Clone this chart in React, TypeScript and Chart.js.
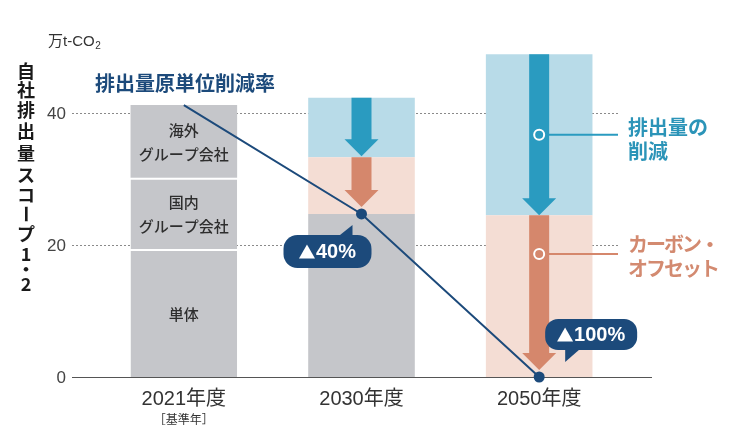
import React, { useEffect, useRef } from "react";
import { Chart, registerables } from "chart.js";

Chart.register(...registerables);

// ---- data ----
const years = ["2021年度", "2030年度", "2050年度"];
const baseYearNote = "［基準年］";
const standalone = [19.4, null, null];
const domesticGroup = [10.8, null, null];
const overseasGroup = [11.0, null, null];
const remaining = [null, 24.7, null];
const carbonOffset = [null, 8.6, 24.5];
const emissionCut = [null, 9.0, 24.4];
const intensityRate = [41.2, 24.7, 0];
const intensityLabels = [null, "40%", "100%"];
const yTicks = [0, 20, 40];
const segmentLabels = [["単体"], ["国内", "グループ会社"], ["海外", "グループ会社"]];
const yTitle = "自社排出量スコープ1・2";
const unitText = "万t-CO";
const lineTitle = "排出量原単位削減率";
const cutLegend = ["排出量の", "削減"];
const offsetLegend = ["カーボン・", "オフセット"];

// ---- style ----
const LATIN = '"Liberation Sans", "Noto Sans CJK JP", sans-serif';
const JP = '"Noto Sans CJK JP", sans-serif';
const GRAY = "#c5c6ca";
const BLUE_BG = "#b8dbe8";
const PINK_BG = "#f4ddd4";
const BLUE = "#2a9bc0";
const ORANGE = "#d5876c";
const NAVY = "#1c4a7b";
const BLUE_TEXT = "#2b94b8";
const ORANGE_TEXT = "#d38a70";

function arrow(ctx: CanvasRenderingContext2D, x: number, top: number, tip: number, color: string) {
  const shaft = 20, head = 34, headH = 17;
  ctx.fillStyle = color;
  ctx.beginPath();
  ctx.moveTo(x - shaft / 2, top);
  ctx.lineTo(x + shaft / 2, top);
  ctx.lineTo(x + shaft / 2, tip - headH);
  ctx.lineTo(x + head / 2, tip - headH);
  ctx.lineTo(x, tip);
  ctx.lineTo(x - head / 2, tip - headH);
  ctx.lineTo(x - shaft / 2, tip - headH);
  ctx.closePath();
  ctx.fill();
}

function roundRect(ctx: CanvasRenderingContext2D, x: number, y: number, w: number, h: number, r: number) {
  ctx.moveTo(x + r, y);
  ctx.lineTo(x + w - r, y);
  ctx.arcTo(x + w, y, x + w, y + r, r);
  ctx.lineTo(x + w, y + h - r);
  ctx.arcTo(x + w, y + h, x + w - r, y + h, r);
  ctx.lineTo(x + r, y + h);
  ctx.arcTo(x, y + h, x, y + h - r, r);
  ctx.lineTo(x, y + r);
  ctx.arcTo(x, y, x + r, y, r);
  ctx.closePath();
}

// "▲" drawn as a filled triangle followed by the percentage text
function badgeText(ctx: CanvasRenderingContext2D, text: string, cx: number, cy: number) {
  ctx.font = `bold 20px ${LATIN}`;
  const tw = ctx.measureText(text).width;
  const triW = 16, gap = 1;
  const total = triW + gap + tw;
  const left = cx - total / 2;
  ctx.fillStyle = "#fff";
  ctx.beginPath();
  ctx.moveTo(left, cy + 7);
  ctx.lineTo(left + triW, cy + 7);
  ctx.lineTo(left + triW / 2, cy - 7);
  ctx.closePath();
  ctx.fill();
  ctx.textAlign = "left";
  ctx.textBaseline = "middle";
  ctx.fillText(text, left + triW + gap, cy + 1);
}

const overlay = {
  id: "overlay",
  beforeDatasetsDraw(chart: any) {
    const { ctx, chartArea } = chart;
    const y = chart.scales.y;
    ctx.save();
    // dashed gridlines
    yTicks.forEach((v) => {
      const py = Math.round(y.getPixelForValue(v)) + 0.5;
      if (v !== 0) {
        ctx.beginPath();
        ctx.setLineDash([2, 2]);
        ctx.strokeStyle = "#8a8a8a";
        ctx.lineWidth = 1;
        ctx.moveTo(chartArea.left - 23, py);
        ctx.lineTo(chartArea.right - 8, py);
        ctx.stroke();
      }
      ctx.setLineDash([]);
      ctx.fillStyle = "#444";
      ctx.font = `17px ${LATIN}`;
      ctx.textAlign = "right";
      ctx.textBaseline = "middle";
      ctx.fillText(String(v), chartArea.left - 29, py + 1);
    });

    // unit
    ctx.fillStyle = "#333";
    ctx.font = `15px ${LATIN}`;
    ctx.textAlign = "left";
    ctx.textBaseline = "middle";
    ctx.fillText(unitText, 48, 42);
    const uw = ctx.measureText(unitText).width;
    ctx.font = `10px ${LATIN}`;
    ctx.fillText("2", 48 + uw + 0.5, 46);

    // vertical axis title
    ctx.fillStyle = "#1a1a1a";
    ctx.font = `bold 18px ${JP}`;
    ctx.textAlign = "center";
    const ys = [71, 90, 110, 131, 153, 175, 195, 214, 234, 254, 269, 284];
    Array.from(yTitle).forEach((ch, i) => {
      if (ch === "ー") {
        ctx.save();
        ctx.translate(26, ys[i]);
        ctx.rotate(Math.PI / 2);
        ctx.fillText(ch, 0, 0);
        ctx.restore();
      } else {
        ctx.fillText(ch, 26, ys[i]);
      }
    });

    // line title
    ctx.fillStyle = NAVY;
    ctx.font = `bold 20px ${JP}`;
    ctx.textAlign = "left";
    ctx.fillText(lineTitle, 95, 83);

    // category labels
    const x = chart.scales.x;
    years.forEach((label, i) => {
      const px = x.getPixelForValue(i);
      ctx.fillStyle = "#333";
      ctx.font = `20px ${LATIN}`;
      ctx.textAlign = "center";
      ctx.fillText(label, px, chartArea.bottom + 22);
      if (i === 0) {
        ctx.font = `12px ${JP}`;
        ctx.fillText(baseYearNote, px, chartArea.bottom + 42);
      }
    });
    ctx.restore();
  },
  beforeDatasetDraw(chart: any, args: any) {
    if (args.meta.type !== "line") return;
    const { ctx, chartArea } = chart;
    ctx.save();

    // segment labels in the 2021 bar
    [0, 1, 2].forEach((di) => {
      const el = chart.getDatasetMeta(di + 1).data[0];
      const cy = (el.y + el.base) / 2;
      const lines = segmentLabels[di];
      ctx.fillStyle = "#2e2e2e";
      ctx.font = `500 15px ${JP}`;
      ctx.textAlign = "center";
      ctx.textBaseline = "middle";
      lines.forEach((t, k) => {
        ctx.fillText(t, el.x, cy + (k - (lines.length - 1) / 2) * 24 + 1);
      });
    });

    // arrows
    const offMeta = chart.getDatasetMeta(5);
    const cutMeta = chart.getDatasetMeta(6);
    [1, 2].forEach((i) => {
      const c = cutMeta.data[i];
      const o = offMeta.data[i];
      arrow(ctx, c.x, c.y, c.base - (i === 1 ? 1 : 0), BLUE);
      arrow(ctx, o.x, o.y, o.base - 7, ORANGE);
    });

    // legend callouts
    const c2 = cutMeta.data[2];
    const o2 = offMeta.data[2];
    const callouts = [
      { cx: c2.x, cy: (c2.y + c2.base) / 2, color: BLUE, text: cutLegend, tc: BLUE_TEXT, dy: [-7, 17], ls: "0px" },
      { cx: o2.x, cy: o2.y + 0.24 * (o2.base - o2.y), color: ORANGE, text: offsetLegend, tc: ORANGE_TEXT, dy: [-10, 14], ls: "-2px" },
    ];
    callouts.forEach((c) => {
      ctx.strokeStyle = c.color;
      ctx.lineWidth = 2;
      ctx.beginPath();
      ctx.moveTo(c.cx, c.cy);
      ctx.lineTo(chartArea.right - 10, c.cy);
      ctx.stroke();
      ctx.beginPath();
      ctx.arc(c.cx, c.cy, 5, 0, Math.PI * 2);
      ctx.fillStyle = c.color;
      ctx.fill();
      ctx.strokeStyle = "#fff";
      ctx.lineWidth = 2;
      ctx.stroke();
      ctx.fillStyle = c.tc;
      ctx.font = `bold 20px ${JP}`;
      ctx.textAlign = "left";
      ctx.textBaseline = "middle";
      (ctx as any).letterSpacing = c.ls;
      c.text.forEach((t, k) => ctx.fillText(t, chartArea.right, c.cy + c.dy[k]));
      (ctx as any).letterSpacing = "0px";
    });

    // baseline
    const py = Math.round(chart.scales.y.getPixelForValue(0)) + 0.5;
    ctx.strokeStyle = "#555";
    ctx.lineWidth = 1;
    ctx.beginPath();
    ctx.moveTo(chartArea.left - 23, py);
    ctx.lineTo(chartArea.right + 24, py);
    ctx.stroke();
    ctx.restore();
  },
  afterDatasetsDraw(chart: any) {
    const { ctx } = chart;
    const meta = chart.getDatasetMeta(0);
    ctx.save();
    intensityLabels.forEach((label, i) => {
      if (!label) return;
      const p = meta.data[i];
      const px = p.x, py = p.y;
      ctx.fillStyle = NAVY;
      ctx.beginPath();
      if (i === 1) {
        const l = px - 78, t = py + 21, w = 88, h = 33;
        roundRect(ctx, l, t, w, h, 14);
        ctx.fill();
        ctx.beginPath();
        ctx.moveTo(px - 24, t + 2);
        ctx.lineTo(px - 9, py + 11);
        ctx.lineTo(px - 9, t + 4);
        ctx.closePath();
        ctx.fill();
        badgeText(ctx, label, l + w / 2, t + h / 2);
      } else {
        const l = px + 6, t = py - 58, w = 92, h = 31;
        roundRect(ctx, l, t, w, h, 13);
        ctx.fill();
        ctx.beginPath();
        ctx.moveTo(px + 26, t + h - 3);
        ctx.lineTo(px + 26, py - 15);
        ctx.lineTo(px + 42, t + h - 2);
        ctx.closePath();
        ctx.fill();
        badgeText(ctx, label, l + w / 2, t + h / 2);
      }
    });
    ctx.restore();
  },
};

export default function App() {
  const ref = useRef<HTMLCanvasElement | null>(null);

  useEffect(() => {
    if (!ref.current) return;
    const bar = (label: string, data: (number | null)[], color: string, sep = false) => ({
      type: "bar" as const,
      label,
      data,
      backgroundColor: color,
      borderColor: "#ffffff",
      borderWidth: sep ? { top: 2 } : 0,
      borderSkipped: "start" as const,
      stack: "emissions",
      order: 1,
    });
    const chart = new Chart(ref.current, {
      type: "bar",
      data: {
        labels: years,
        datasets: [
          {
            type: "line",
            label: lineTitle,
            data: intensityRate,
            borderColor: NAVY,
            borderWidth: 2,
            pointRadius: [0, 5.5, 5.5],
            pointBackgroundColor: NAVY,
            pointBorderWidth: 0,
            tension: 0,
            clip: false,
            stack: "rate",
            order: 0,
          } as any,
          bar("単体", standalone, GRAY, true),
          bar("国内グループ会社", domesticGroup, GRAY, true),
          bar("海外グループ会社", overseasGroup, GRAY),
          bar("排出量", remaining, GRAY),
          bar("カーボン・オフセット", carbonOffset, PINK_BG),
          bar("排出量の削減", emissionCut, BLUE_BG),
        ],
      },
      options: {
        animation: false,
        responsive: false,
        events: [],
        layout: { padding: { left: 95, right: 122, top: 47, bottom: 52 } },
        datasets: { bar: { barPercentage: 0.6, categoryPercentage: 1 } },
        scales: {
          x: { stacked: true, display: false, offset: true },
          y: { stacked: true, display: false, min: 0, max: 50 },
        },
        plugins: { legend: { display: false }, tooltip: { enabled: false } },
      },
      plugins: [overlay],
    });
    return () => chart.destroy();
  }, []);

  return (
    <div style={{ position: "fixed", left: 0, top: 0, width: 750, height: 429, background: "#fff" }}>
      <canvas ref={ref} width={750} height={429} />
    </div>
  );
}
